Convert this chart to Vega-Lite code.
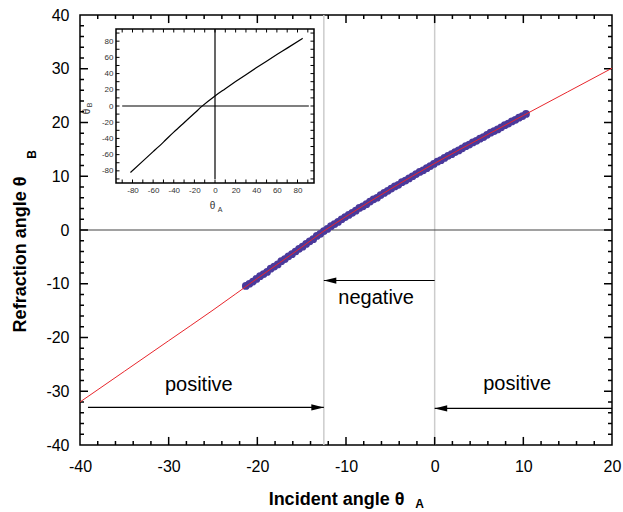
{
"$schema": "https://vega.github.io/schema/vega-lite/v6.json",
"width": 532, "height": 430,
"autosize": {"type": "none"},
"padding": {"left": 80, "top": 15, "right": 11, "bottom": 67},
"config": {"font": "Liberation Sans", "view": {"stroke": "black", "strokeWidth": 1.5},
  "axis": {"grid": false, "labelFont": "Liberation Sans", "titleFont": "Liberation Sans", "labelColor": "black", "titleColor": "black", "tickColor": "black", "domainColor": "black", "labelFlush": false, "labelOverlap": false, "labelExpr": "replace(datum.label, '−', '-')"},
  "text": {"font": "Liberation Sans"}},
"datasets": {
  "pts": [{"x":-21.3,"y":-10.4},{"x":-20.9,"y":-10.0},{"x":-20.5,"y":-9.6},{"x":-20.1,"y":-9.1},{"x":-19.7,"y":-8.6},{"x":-19.3,"y":-8.2},{"x":-18.9,"y":-7.8},{"x":-18.5,"y":-7.2},{"x":-18.1,"y":-6.8},{"x":-17.7,"y":-6.4},{"x":-17.3,"y":-5.8},{"x":-16.9,"y":-5.4},{"x":-16.5,"y":-4.9},{"x":-16.1,"y":-4.5},{"x":-15.7,"y":-4.0},{"x":-15.3,"y":-3.5},{"x":-14.9,"y":-3.1},{"x":-14.5,"y":-2.6},{"x":-14.1,"y":-2.1},{"x":-13.7,"y":-1.7},{"x":-13.3,"y":-1.1},{"x":-12.9,"y":-0.7},{"x":-12.5,"y":-0.2},{"x":-12.1,"y":0.2},{"x":-11.7,"y":0.7},{"x":-11.3,"y":1.1},{"x":-10.9,"y":1.5},{"x":-10.5,"y":2.0},{"x":-10.1,"y":2.4},{"x":-9.7,"y":2.8},{"x":-9.3,"y":3.2},{"x":-8.9,"y":3.6},{"x":-8.5,"y":4.1},{"x":-8.1,"y":4.4},{"x":-7.7,"y":4.8},{"x":-7.3,"y":5.3},{"x":-6.9,"y":5.7},{"x":-6.5,"y":6.0},{"x":-6.1,"y":6.5},{"x":-5.7,"y":6.9},{"x":-5.3,"y":7.3},{"x":-4.9,"y":7.7},{"x":-4.5,"y":8.1},{"x":-4.1,"y":8.4},{"x":-3.7,"y":8.9},{"x":-3.3,"y":9.2},{"x":-2.9,"y":9.6},{"x":-2.5,"y":10.0},{"x":-2.1,"y":10.4},{"x":-1.7,"y":10.8},{"x":-1.3,"y":11.1},{"x":-0.9,"y":11.5},{"x":-0.5,"y":11.9},{"x":-0.1,"y":12.3},{"x":0.3,"y":12.7},{"x":0.7,"y":13.0},{"x":1.1,"y":13.4},{"x":1.5,"y":13.8},{"x":1.9,"y":14.1},{"x":2.3,"y":14.5},{"x":2.7,"y":14.8},{"x":3.1,"y":15.2},{"x":3.5,"y":15.6},{"x":3.9,"y":15.9},{"x":4.3,"y":16.3},{"x":4.7,"y":16.6},{"x":5.1,"y":17.0},{"x":5.5,"y":17.3},{"x":5.9,"y":17.7},{"x":6.3,"y":18.1},{"x":6.7,"y":18.4},{"x":7.1,"y":18.7},{"x":7.5,"y":19.1},{"x":7.9,"y":19.5},{"x":8.3,"y":19.8},{"x":8.7,"y":20.2},{"x":9.1,"y":20.5},{"x":9.5,"y":20.9},{"x":9.9,"y":21.2},{"x":10.3,"y":21.6}],
  "fit": [{"x":-40,"y":-32.0},{"x":-35,"y":-26.3},{"x":-30,"y":-20.6},{"x":-25,"y":-14.9},{"x":-20,"y":-9.0},{"x":-15,"y":-3.2},{"x":-12.5,"y":-0.2},{"x":-10,"y":2.5},{"x":-5,"y":7.6},{"x":0,"y":12.4},{"x":5,"y":16.9},{"x":10,"y":21.3},{"x":15,"y":25.7},{"x":20,"y":30.1}],
  "inset": [{"x":-82,"y":-82},{"x":-70,"y":-68},{"x":-60,"y":-56.3},{"x":-50,"y":-44.5},{"x":-40,"y":-32.3},{"x":-30,"y":-20.6},{"x":-20,"y":-9.0},{"x":-12.5,"y":-0.2},{"x":0,"y":12.4},{"x":10,"y":21.3},{"x":20,"y":30.1},{"x":30,"y":38.7},{"x":40,"y":47.1},{"x":50,"y":55.3},{"x":60,"y":63.4},{"x":70,"y":71.4},{"x":85,"y":83.5}],
  "arrows": [{"x":0,"x2":-12.5,"y":-9.4},{"x":-39.1,"x2":-12.5,"y":-33.0},{"x":20,"x2":0,"y":-33.2}],
  "heads": [{"x":-12.5,"y":-9.4,"dir":"left"},{"x":-12.5,"y":-33.0,"dir":"right"},{"x":0,"y":-33.2,"dir":"left"}],
  "labels": [{"x":-6.6,"y":-12.7,"label":"negative"},{"x":-26.6,"y":-28.8,"label":"positive"},{"x":9.3,"y":-28.7,"label":"positive"}],
  "ticks": [
   {"x":-38,"x2":-38,"y":-40,"y2":-39.25},{"x":-36,"x2":-36,"y":-40,"y2":-39.25},{"x":-34,"x2":-34,"y":-40,"y2":-39.25},{"x":-32,"x2":-32,"y":-40,"y2":-39.25},{"x":-30,"x2":-30,"y":-40,"y2":-38.5},{"x":-28,"x2":-28,"y":-40,"y2":-39.25},{"x":-26,"x2":-26,"y":-40,"y2":-39.25},{"x":-24,"x2":-24,"y":-40,"y2":-39.25},{"x":-22,"x2":-22,"y":-40,"y2":-39.25},{"x":-20,"x2":-20,"y":-40,"y2":-38.5},{"x":-18,"x2":-18,"y":-40,"y2":-39.25},{"x":-16,"x2":-16,"y":-40,"y2":-39.25},{"x":-14,"x2":-14,"y":-40,"y2":-39.25},{"x":-12,"x2":-12,"y":-40,"y2":-39.25},{"x":-10,"x2":-10,"y":-40,"y2":-38.5},{"x":-8,"x2":-8,"y":-40,"y2":-39.25},{"x":-6,"x2":-6,"y":-40,"y2":-39.25},{"x":-4,"x2":-4,"y":-40,"y2":-39.25},{"x":-2,"x2":-2,"y":-40,"y2":-39.25},{"x":0,"x2":0,"y":-40,"y2":-38.5},{"x":2,"x2":2,"y":-40,"y2":-39.25},{"x":4,"x2":4,"y":-40,"y2":-39.25},{"x":6,"x2":6,"y":-40,"y2":-39.25},{"x":8,"x2":8,"y":-40,"y2":-39.25},{"x":10,"x2":10,"y":-40,"y2":-38.5},{"x":12,"x2":12,"y":-40,"y2":-39.25},{"x":14,"x2":14,"y":-40,"y2":-39.25},{"x":16,"x2":16,"y":-40,"y2":-39.25},{"x":18,"x2":18,"y":-40,"y2":-39.25},
   {"x":-38,"x2":-38,"y":40,"y2":39.25},{"x":-36,"x2":-36,"y":40,"y2":39.25},{"x":-34,"x2":-34,"y":40,"y2":39.25},{"x":-32,"x2":-32,"y":40,"y2":39.25},{"x":-30,"x2":-30,"y":40,"y2":38.5},{"x":-28,"x2":-28,"y":40,"y2":39.25},{"x":-26,"x2":-26,"y":40,"y2":39.25},{"x":-24,"x2":-24,"y":40,"y2":39.25},{"x":-22,"x2":-22,"y":40,"y2":39.25},{"x":-20,"x2":-20,"y":40,"y2":38.5},{"x":-18,"x2":-18,"y":40,"y2":39.25},{"x":-16,"x2":-16,"y":40,"y2":39.25},{"x":-14,"x2":-14,"y":40,"y2":39.25},{"x":-12,"x2":-12,"y":40,"y2":39.25},{"x":-10,"x2":-10,"y":40,"y2":38.5},{"x":-8,"x2":-8,"y":40,"y2":39.25},{"x":-6,"x2":-6,"y":40,"y2":39.25},{"x":-4,"x2":-4,"y":40,"y2":39.25},{"x":-2,"x2":-2,"y":40,"y2":39.25},{"x":0,"x2":0,"y":40,"y2":38.5},{"x":2,"x2":2,"y":40,"y2":39.25},{"x":4,"x2":4,"y":40,"y2":39.25},{"x":6,"x2":6,"y":40,"y2":39.25},{"x":8,"x2":8,"y":40,"y2":39.25},{"x":10,"x2":10,"y":40,"y2":38.5},{"x":12,"x2":12,"y":40,"y2":39.25},{"x":14,"x2":14,"y":40,"y2":39.25},{"x":16,"x2":16,"y":40,"y2":39.25},{"x":18,"x2":18,"y":40,"y2":39.25},
   {"x":-40,"x2":-39.55,"y":-38,"y2":-38},{"x":-40,"x2":-39.55,"y":-36,"y2":-36},{"x":-40,"x2":-39.55,"y":-34,"y2":-34},{"x":-40,"x2":-39.55,"y":-32,"y2":-32},{"x":-40,"x2":-39.1,"y":-30,"y2":-30},{"x":-40,"x2":-39.55,"y":-28,"y2":-28},{"x":-40,"x2":-39.55,"y":-26,"y2":-26},{"x":-40,"x2":-39.55,"y":-24,"y2":-24},{"x":-40,"x2":-39.55,"y":-22,"y2":-22},{"x":-40,"x2":-39.1,"y":-20,"y2":-20},{"x":-40,"x2":-39.55,"y":-18,"y2":-18},{"x":-40,"x2":-39.55,"y":-16,"y2":-16},{"x":-40,"x2":-39.55,"y":-14,"y2":-14},{"x":-40,"x2":-39.55,"y":-12,"y2":-12},{"x":-40,"x2":-39.1,"y":-10,"y2":-10},{"x":-40,"x2":-39.55,"y":-8,"y2":-8},{"x":-40,"x2":-39.55,"y":-6,"y2":-6},{"x":-40,"x2":-39.55,"y":-4,"y2":-4},{"x":-40,"x2":-39.55,"y":-2,"y2":-2},{"x":-40,"x2":-39.1,"y":0,"y2":0},{"x":-40,"x2":-39.55,"y":2,"y2":2},{"x":-40,"x2":-39.55,"y":4,"y2":4},{"x":-40,"x2":-39.55,"y":6,"y2":6},{"x":-40,"x2":-39.55,"y":8,"y2":8},{"x":-40,"x2":-39.1,"y":10,"y2":10},{"x":-40,"x2":-39.55,"y":12,"y2":12},{"x":-40,"x2":-39.55,"y":14,"y2":14},{"x":-40,"x2":-39.55,"y":16,"y2":16},{"x":-40,"x2":-39.55,"y":18,"y2":18},{"x":-40,"x2":-39.1,"y":20,"y2":20},{"x":-40,"x2":-39.55,"y":22,"y2":22},{"x":-40,"x2":-39.55,"y":24,"y2":24},{"x":-40,"x2":-39.55,"y":26,"y2":26},{"x":-40,"x2":-39.55,"y":28,"y2":28},{"x":-40,"x2":-39.1,"y":30,"y2":30},{"x":-40,"x2":-39.55,"y":32,"y2":32},{"x":-40,"x2":-39.55,"y":34,"y2":34},{"x":-40,"x2":-39.55,"y":36,"y2":36},{"x":-40,"x2":-39.55,"y":38,"y2":38},
   {"x":20,"x2":19.55,"y":-38,"y2":-38},{"x":20,"x2":19.55,"y":-36,"y2":-36},{"x":20,"x2":19.55,"y":-34,"y2":-34},{"x":20,"x2":19.55,"y":-32,"y2":-32},{"x":20,"x2":19.1,"y":-30,"y2":-30},{"x":20,"x2":19.55,"y":-28,"y2":-28},{"x":20,"x2":19.55,"y":-26,"y2":-26},{"x":20,"x2":19.55,"y":-24,"y2":-24},{"x":20,"x2":19.55,"y":-22,"y2":-22},{"x":20,"x2":19.1,"y":-20,"y2":-20},{"x":20,"x2":19.55,"y":-18,"y2":-18},{"x":20,"x2":19.55,"y":-16,"y2":-16},{"x":20,"x2":19.55,"y":-14,"y2":-14},{"x":20,"x2":19.55,"y":-12,"y2":-12},{"x":20,"x2":19.1,"y":-10,"y2":-10},{"x":20,"x2":19.55,"y":-8,"y2":-8},{"x":20,"x2":19.55,"y":-6,"y2":-6},{"x":20,"x2":19.55,"y":-4,"y2":-4},{"x":20,"x2":19.55,"y":-2,"y2":-2},{"x":20,"x2":19.1,"y":0,"y2":0},{"x":20,"x2":19.55,"y":2,"y2":2},{"x":20,"x2":19.55,"y":4,"y2":4},{"x":20,"x2":19.55,"y":6,"y2":6},{"x":20,"x2":19.55,"y":8,"y2":8},{"x":20,"x2":19.1,"y":10,"y2":10},{"x":20,"x2":19.55,"y":12,"y2":12},{"x":20,"x2":19.55,"y":14,"y2":14},{"x":20,"x2":19.55,"y":16,"y2":16},{"x":20,"x2":19.55,"y":18,"y2":18},{"x":20,"x2":19.1,"y":20,"y2":20},{"x":20,"x2":19.55,"y":22,"y2":22},{"x":20,"x2":19.55,"y":24,"y2":24},{"x":20,"x2":19.55,"y":26,"y2":26},{"x":20,"x2":19.55,"y":28,"y2":28},{"x":20,"x2":19.1,"y":30,"y2":30},{"x":20,"x2":19.55,"y":32,"y2":32},{"x":20,"x2":19.55,"y":34,"y2":34},{"x":20,"x2":19.55,"y":36,"y2":36},{"x":20,"x2":19.55,"y":38,"y2":38}],
  "iticks": [
   {"x":-90,"x2":-90,"y":-95,"y2":-90.7},{"x":-80,"x2":-80,"y":-95,"y2":-90.7},{"x":-70,"x2":-70,"y":-95,"y2":-90.7},{"x":-60,"x2":-60,"y":-95,"y2":-90.7},{"x":-50,"x2":-50,"y":-95,"y2":-90.7},{"x":-40,"x2":-40,"y":-95,"y2":-90.7},{"x":-30,"x2":-30,"y":-95,"y2":-90.7},{"x":-20,"x2":-20,"y":-95,"y2":-90.7},{"x":-10,"x2":-10,"y":-95,"y2":-90.7},{"x":0,"x2":0,"y":-95,"y2":-90.7},{"x":10,"x2":10,"y":-95,"y2":-90.7},{"x":20,"x2":20,"y":-95,"y2":-90.7},{"x":30,"x2":30,"y":-95,"y2":-90.7},{"x":40,"x2":40,"y":-95,"y2":-90.7},{"x":50,"x2":50,"y":-95,"y2":-90.7},{"x":60,"x2":60,"y":-95,"y2":-90.7},{"x":70,"x2":70,"y":-95,"y2":-90.7},{"x":80,"x2":80,"y":-95,"y2":-90.7},{"x":90,"x2":90,"y":-95,"y2":-90.7},
   {"x":-90,"x2":-90,"y":95,"y2":90.7},{"x":-80,"x2":-80,"y":95,"y2":90.7},{"x":-70,"x2":-70,"y":95,"y2":90.7},{"x":-60,"x2":-60,"y":95,"y2":90.7},{"x":-50,"x2":-50,"y":95,"y2":90.7},{"x":-40,"x2":-40,"y":95,"y2":90.7},{"x":-30,"x2":-30,"y":95,"y2":90.7},{"x":-20,"x2":-20,"y":95,"y2":90.7},{"x":-10,"x2":-10,"y":95,"y2":90.7},{"x":0,"x2":0,"y":95,"y2":90.7},{"x":10,"x2":10,"y":95,"y2":90.7},{"x":20,"x2":20,"y":95,"y2":90.7},{"x":30,"x2":30,"y":95,"y2":90.7},{"x":40,"x2":40,"y":95,"y2":90.7},{"x":50,"x2":50,"y":95,"y2":90.7},{"x":60,"x2":60,"y":95,"y2":90.7},{"x":70,"x2":70,"y":95,"y2":90.7},{"x":80,"x2":80,"y":95,"y2":90.7},{"x":90,"x2":90,"y":95,"y2":90.7},
   {"x":-96,"x2":-92.6,"y":-90,"y2":-90},{"x":-96,"x2":-92.6,"y":-80,"y2":-80},{"x":-96,"x2":-92.6,"y":-70,"y2":-70},{"x":-96,"x2":-92.6,"y":-60,"y2":-60},{"x":-96,"x2":-92.6,"y":-50,"y2":-50},{"x":-96,"x2":-92.6,"y":-40,"y2":-40},{"x":-96,"x2":-92.6,"y":-30,"y2":-30},{"x":-96,"x2":-92.6,"y":-20,"y2":-20},{"x":-96,"x2":-92.6,"y":-10,"y2":-10},{"x":-96,"x2":-92.6,"y":0,"y2":0},{"x":-96,"x2":-92.6,"y":10,"y2":10},{"x":-96,"x2":-92.6,"y":20,"y2":20},{"x":-96,"x2":-92.6,"y":30,"y2":30},{"x":-96,"x2":-92.6,"y":40,"y2":40},{"x":-96,"x2":-92.6,"y":50,"y2":50},{"x":-96,"x2":-92.6,"y":60,"y2":60},{"x":-96,"x2":-92.6,"y":70,"y2":70},{"x":-96,"x2":-92.6,"y":80,"y2":80},{"x":-96,"x2":-92.6,"y":90,"y2":90},
   {"x":96,"x2":92.6,"y":-90,"y2":-90},{"x":96,"x2":92.6,"y":-80,"y2":-80},{"x":96,"x2":92.6,"y":-70,"y2":-70},{"x":96,"x2":92.6,"y":-60,"y2":-60},{"x":96,"x2":92.6,"y":-50,"y2":-50},{"x":96,"x2":92.6,"y":-40,"y2":-40},{"x":96,"x2":92.6,"y":-30,"y2":-30},{"x":96,"x2":92.6,"y":-20,"y2":-20},{"x":96,"x2":92.6,"y":-10,"y2":-10},{"x":96,"x2":92.6,"y":0,"y2":0},{"x":96,"x2":92.6,"y":10,"y2":10},{"x":96,"x2":92.6,"y":20,"y2":20},{"x":96,"x2":92.6,"y":30,"y2":30},{"x":96,"x2":92.6,"y":40,"y2":40},{"x":96,"x2":92.6,"y":50,"y2":50},{"x":96,"x2":92.6,"y":60,"y2":60},{"x":96,"x2":92.6,"y":70,"y2":70},{"x":96,"x2":92.6,"y":80,"y2":80},{"x":96,"x2":92.6,"y":90,"y2":90}]
},
"layer": [
 {
  "layer": [
   {"data": {"values": [{"x":-12.5},{"x":0}]}, "mark": {"type":"rule","color":"#cccccc","strokeWidth":1.5},
    "encoding": {"x": {"field":"x","type":"quantitative","scale":{"domain":[-40,20],"nice":false,"zero":false},"axis":null}}},
   {"data": {"values": [{"y":0}]}, "mark": {"type":"rule","color":"#444444","strokeWidth":1.2},
    "encoding": {"y": {"field":"y","type":"quantitative","scale":{"domain":[-40,40],"nice":false,"zero":false},"axis":null}}},
   {"data": {"name":"ticks"}, "mark": {"type":"rule","color":"black","strokeWidth":1.5},
    "encoding": {
     "x": {"field":"x","type":"quantitative","scale":{"domain":[-40,20],"nice":false,"zero":false},
       "axis":{"orient":"bottom","ticks":false,"labels":false,"domain":false,"title":"A","titleFontSize":12,"titleFontWeight":"bold","titleX":339,"titleY":62,"titleAlign":"center","titleBaseline":"alphabetic"}},
     "x2": {"field":"x2"},
     "y": {"field":"y","type":"quantitative","scale":{"domain":[-40,40],"nice":false,"zero":false},
       "axis":{"orient":"left","ticks":false,"labels":false,"domain":false,"title":"B","titleFontSize":12,"titleFontWeight":"bold","titleX":-45,"titleY":139,"titleAngle":270,"titleAlign":"center","titleBaseline":"alphabetic"}},
     "y2": {"field":"y2"}}},
   {"data": {"name":"pts"}, "mark": {"type":"point","shape":"circle","filled":true,"color":"#4a3a9c","opacity":1,"size":60},
    "encoding": {
     "x": {"field":"x","type":"quantitative","scale":{"domain":[-40,20],"nice":false,"zero":false},"axis":null},
     "y": {"field":"y","type":"quantitative","scale":{"domain":[-40,40],"nice":false,"zero":false},"axis":null}}},
   {"data": {"name":"fit"}, "mark": {"type":"line","color":"#e8262c","strokeWidth":1,"interpolate":"monotone"},
    "encoding": {
     "x": {"field":"x","type":"quantitative","scale":{"domain":[-40,20],"nice":false,"zero":false},
       "axis":{"orient":"bottom","values":[-40,-30,-20,-10,0,10,20],"ticks":false,"domain":false,"labelFontSize":16,"labelPadding":13,
         "title":"Incident angle θ","titleFontSize":18,"titleFontWeight":"bold","titleX":256,"titleY":59,"titleAlign":"center","titleBaseline":"alphabetic"}},
     "y": {"field":"y","type":"quantitative","scale":{"domain":[-40,40],"nice":false,"zero":false},
       "axis":{"orient":"left","values":[-40,-30,-20,-10,0,10,20,30,40],"ticks":false,"domain":false,"labelFontSize":16,"labelPadding":11,
         "title":"Refraction angle θ","titleFontSize":18,"titleFontWeight":"bold","titleX":-55,"titleY":239,"titleAngle":270,"titleAlign":"center","titleBaseline":"alphabetic"}}}},
   {"data": {"name":"arrows"}, "mark": {"type":"rule","color":"black","strokeWidth":1.2},
    "encoding": {
     "x": {"field":"x","type":"quantitative","scale":{"domain":[-40,20],"nice":false,"zero":false},"axis":null},
     "x2": {"field":"x2"},
     "y": {"field":"y","type":"quantitative","scale":{"domain":[-40,40],"nice":false,"zero":false},"axis":null}}},
   {"data": {"name":"heads"}, "mark": {"type":"point","filled":true,"color":"black","opacity":1,"size":156,"strokeWidth":0},
    "encoding": {
     "x": {"field":"x","type":"quantitative","scale":{"domain":[-40,20],"nice":false,"zero":false},"axis":null},
     "y": {"field":"y","type":"quantitative","scale":{"domain":[-40,40],"nice":false,"zero":false},"axis":null},
     "shape": {"field":"dir","type":"nominal","scale":{"domain":["left","right"],"range":["M0,0L2,-0.5L2,0.5Z","M0,0L-2,-0.5L-2,0.5Z"]},"legend":null}}},
   {"data": {"name":"labels"}, "mark": {"type":"text","fontSize":20,"color":"black","align":"center","baseline":"middle"},
    "encoding": {
     "x": {"field":"x","type":"quantitative","scale":{"domain":[-40,20],"nice":false,"zero":false},"axis":null},
     "y": {"field":"y","type":"quantitative","scale":{"domain":[-40,40],"nice":false,"zero":false},"axis":null},
     "text": {"field":"label","type":"nominal"}}}
  ],
  "resolve": {"axis": {"x":"independent","y":"independent"}}
 },
 {
  "layer": [
   {"data": {"values": [{"x":-96,"x2":96,"y":-95,"y2":95}]}, "mark": {"type":"rect","filled":false,"stroke":"black","strokeWidth":1.5},
    "encoding": {
     "x": {"field":"x","type":"quantitative","scale":{"domain":[-96,96],"range":[36,234],"nice":false,"zero":false},"axis":null},
     "x2": {"field":"x2"},
     "y": {"field":"y","type":"quantitative","scale":{"domain":[-95,95],"range":[168,14],"nice":false,"zero":false},"axis":null},
     "y2": {"field":"y2"}}},
   {"data": {"name":"iticks"}, "mark": {"type":"rule","color":"black","strokeWidth":1},
    "encoding": {
     "x": {"field":"x","type":"quantitative","scale":{"domain":[-96,96],"range":[36,234],"nice":false,"zero":false},
       "axis":{"orient":"bottom","offset":-262,"ticks":false,"labels":false,"domain":false,"title":"A","titleFontSize":7,"titleFontWeight":"normal","titleColor":"#333333","titleX":139.5,"titleY":28,"titleAlign":"center","titleBaseline":"alphabetic"}},
     "x2": {"field":"x2"},
     "y": {"field":"y","type":"quantitative","scale":{"domain":[-95,95],"range":[168,14],"nice":false,"zero":false},
       "axis":{"orient":"left","offset":-36,"ticks":false,"labels":false,"domain":false,"title":"B","titleFontSize":7,"titleFontWeight":"normal","titleColor":"#333333","titleX":-25,"titleY":89.5,"titleAngle":270,"titleAlign":"center","titleBaseline":"alphabetic"}},
     "y2": {"field":"y2"}}},
   {"data": {"values": [{"x":-90,"x2":91,"y":0}]}, "mark": {"type":"rule","color":"black","strokeWidth":1.2},
    "encoding": {
     "x": {"field":"x","type":"quantitative","scale":{"domain":[-96,96],"range":[36,234],"nice":false,"zero":false},"axis":null},
     "x2": {"field":"x2"},
     "y": {"field":"y","type":"quantitative","scale":{"domain":[-95,95],"range":[168,14],"nice":false,"zero":false},"axis":null}}},
   {"data": {"values": [{"x":0,"y":-90,"y2":95}]}, "mark": {"type":"rule","color":"black","strokeWidth":1.2},
    "encoding": {
     "x": {"field":"x","type":"quantitative","scale":{"domain":[-96,96],"range":[36,234],"nice":false,"zero":false},"axis":null},
     "y": {"field":"y","type":"quantitative","scale":{"domain":[-95,95],"range":[168,14],"nice":false,"zero":false},"axis":null},
     "y2": {"field":"y2"}}},
   {"data": {"name":"inset"}, "mark": {"type":"line","color":"black","strokeWidth":1.2,"interpolate":"monotone"},
    "encoding": {
     "x": {"field":"x","type":"quantitative","scale":{"domain":[-96,96],"range":[36,234],"nice":false,"zero":false},
       "axis":{"orient":"bottom","offset":-262,"values":[-80,-60,-40,-20,0,20,40,60,80],"ticks":false,"domain":false,"labelFontSize":8,"labelPadding":3,"labelColor":"#333333",
         "title":"θ","titleFontSize":10,"titleFontWeight":"normal","titleX":132,"titleY":25,"titleAlign":"center","titleBaseline":"alphabetic","titleColor":"#333333"}},
     "y": {"field":"y","type":"quantitative","scale":{"domain":[-95,95],"range":[168,14],"nice":false,"zero":false},
       "axis":{"orient":"left","offset":-36,"values":[-80,-60,-40,-20,0,20,40,60,80],"ticks":false,"domain":false,"labelFontSize":8,"labelPadding":3,"labelColor":"#333333",
         "title":"θ","titleFontSize":10,"titleFontWeight":"normal","titleX":-27,"titleY":96,"titleAngle":270,"titleAlign":"center","titleBaseline":"alphabetic","titleColor":"#333333"}}}}
  ],
  "resolve": {"axis": {"x":"independent","y":"independent"}}
 }
],
"resolve": {"scale": {"x":"independent","y":"independent"}, "axis": {"x":"independent","y":"independent"}}
}
